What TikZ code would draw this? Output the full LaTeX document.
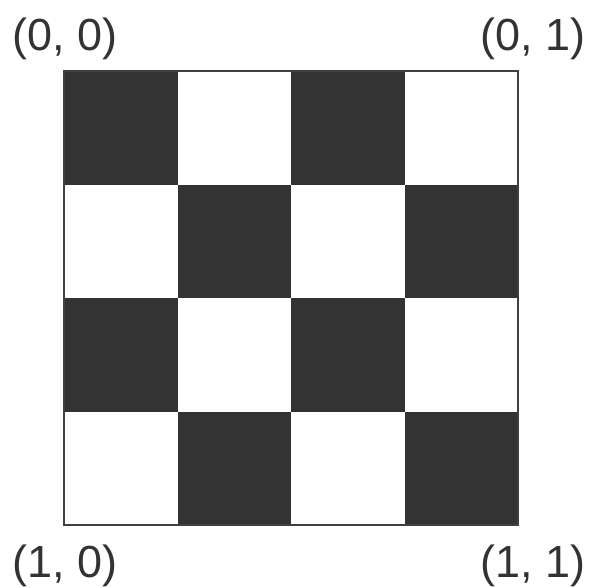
\documentclass[tikz,border=0pt]{standalone}
\usepackage{fontspec}
\setmainfont{Liberation Sans}
\usepackage{tikz}
\usetikzlibrary{positioning,calc}
\usepackage{xcolor}
\definecolor{squaredark}{RGB}{51,51,51}
\definecolor{frameline}{RGB}{64,64,64}

\begin{document}
\begin{tikzpicture}[x=1pt, y=-1pt,
        cell/.style={rectangle, inner sep=0pt, minimum size=113.5pt, fill=squaredark},
        board/.style={rectangle, draw=frameline, line width=2pt, inner sep=0pt, minimum size=454pt},
        corner/.style={anchor=base, text=squaredark, font=\fontsize{45}{54}\selectfont}
    ]
        \useasboundingbox (0,0) rectangle (591,587);

        % Dark squares
        \foreach \i in {0,...,3} {
            \foreach \j in {0,...,3} {
                \pgfmathtruncatemacro{\parity}{mod(\i+\j,2)}
                \ifnum\parity=0
                    \node[cell] (sq\i\j) at ({64+113.5*(\j+0.5)},{71+113.5*(\i+0.5)}) {};
                \fi
            }
        }

        % Frame
        \node[board] (grid) at (291,298) {};

        % Corner labels
        \node[corner] (topleft) at (65,50) {(0, 0)};
        \node[corner] (topright) at (533,50) {(0, 1)};
        \node[corner] (bottomleft) at (65,577) {(1, 0)};
        \node[corner] (bottomright) at (533,577) {(1, 1)};

    \end{tikzpicture}
\end{document}
